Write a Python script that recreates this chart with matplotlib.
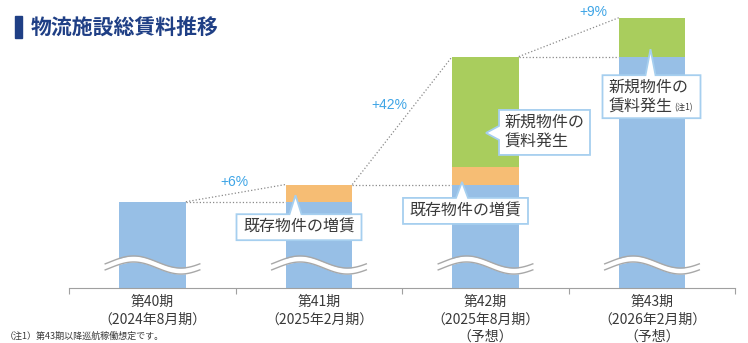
import matplotlib
matplotlib.use("Agg")
import matplotlib.pyplot as plt
import numpy as np
from matplotlib.patches import Polygon, Rectangle

plt.rcParams["font.family"] = ["Noto Sans CJK JP", "DejaVu Sans"]

# Rent index per fiscal period (第40期 = 100)
periods = ["第40期\n（2024年8月期）", "第41期\n（2025年2月期）",
           "第42期\n（2025年8月期）\n（予想）", "第43期\n（2026年2月期）\n（予想）"]
base_rent = [100, 100, 106, 150.5]      # carried over from the previous period
existing_up = [0, 6, 6, 0]              # 既存物件の増賃
new_rent = [0, 0, 38.5, 13.5]           # 新規物件の賃料発生

BLUE, ORANGE, GREEN = "#97bfe6", "#f6bd74", "#a9cd5d"
EDGE = "#a6cfef"
TXT = "#3a3a3a"
W = 0.40

base = np.array(base_rent, float)
up = np.array(existing_up, float)
new = np.array(new_rent, float)
total = base + up + new
x = np.arange(len(periods))

fig = plt.figure(figsize=(7.48, 3.43), dpi=100)
ax = fig.add_axes([69.25 / 748, 55 / 343, 666 / 748, 278 / 343])
ax.set_xlim(-0.5, 3.5)
ax.set_ylim(70, 70 + 278 / 2.875)

ax.bar(x, base, W, color=BLUE, zorder=2)
ax.bar(x, up, W, bottom=base, color=ORANGE, zorder=2)
ax.bar(x, new, W, bottom=base + up, color=GREEN, zorder=2)

for s in ["top", "right", "left"]:
    ax.spines[s].set_visible(False)
ax.spines["bottom"].set_color("#a0a0a0")
ax.set_yticks([])
ax.set_xticks(np.arange(-0.5, 4, 1), [""] * 5)
ax.tick_params(axis="x", which="major", length=4, color="#a0a0a0")
ax.set_xticks(x, periods, minor=True)
ax.tick_params(axis="x", which="minor", length=0, pad=5, labelsize=10,
               labelcolor=TXT)
for lab in ax.get_xticklabels(minor=True):
    lab.set_linespacing(1.3)

# pixel helpers (image coords: y grows downward)
to_disp = ax.transData.transform
to_data = ax.transData.inverted().transform

# axis break waves
for xi in x:
    t = np.linspace(0, 1, 80)
    xs = np.linspace(xi - W / 2 - 14 / 166.5, xi + W / 2 + 14 / 166.5, 80)
    yc = 78 + 2.1 * np.sin(2 * np.pi * (t - 0.05))
    ax.fill_between(xs, yc - 1.05, yc + 1.05, color="white", zorder=3, lw=0)
    ax.plot(xs, yc + 1.05, color="#a8a8a8", lw=1, zorder=4)
    ax.plot(xs, yc - 1.05, color="#a8a8a8", lw=1, zorder=4)

# growth connectors
growth_offsets = [(-1.5, -11), (-12.5, -15.5), (25, -25.5)]
for i in range(len(x) - 1):
    x0, x1 = x[i] + W / 2, x[i + 1] - W / 2
    ax.plot([x0, x1], [total[i], total[i + 1]], ls=":", color="#8a8a8a", lw=0.9, zorder=1)
    ax.plot([x0, x1], [total[i], total[i]], ls=":", color="#8a8a8a", lw=0.9, zorder=1)
    pct = round((total[i + 1] / total[i] - 1) * 100)
    dx, dy = growth_offsets[i]
    ax.annotate(f"+{pct}%", ((x0 + x1) / 2, (total[i] + total[i + 1]) / 2),
                xytext=(dx, -dy), textcoords="offset pixels", ha="center",
                va="center", color="#3fa5e6", fontsize=10,
                family=["Liberation Sans", "DejaVu Sans"])


def callout(tip, box_dx, box_dy, w, h, side, half=6):
    """Box with a pointer; offsets in pixels from the tip, image-style y."""
    TX, TY = to_disp(tip)
    L, T = TX + box_dx, TY - box_dy
    R, B = L + w, T - h
    if side == "top":
        pts = [(L, T), (TX - half, T), (TX, TY), (TX + half, T), (R, T), (R, B), (L, B)]
    else:
        pts = [(L, T), (R, T), (R, B), (L, B), (L, TY - half), (TX, TY), (L, TY + half)]
    poly = Polygon(to_data(np.array(pts)), closed=True, facecolor="white",
                   edgecolor=EDGE, lw=1.3, zorder=5, joinstyle="miter")
    ax.add_patch(poly)
    return L, T


def seg_point(i, lo, seg, frac, dx_px):
    X, _ = to_disp((x[i], 0))
    xd = to_data((X + dx_px, 0))[0]
    return (xd, lo[i] + seg[i] * frac)


# 既存物件の増賃 (第41期, 第42期)
for i, dxp, frac, bdy in [(1, -23.5, 0.38, 19), (2, -23.5, 0.15, 16)]:
    tip = seg_point(i, base, up, frac, dxp)
    L, T = callout(tip, -59, bdy, 125, 26, "top")
    ax.text(*to_data((L + 62.5, T - 13)), "既存物件の増賃", ha="center", va="center",
            fontsize=11.5, color=TXT, zorder=6)

# 新規物件の賃料発生 (第42期)
tip = seg_point(2, base + up, new, 0.31, 0.5)
L, T = callout(tip, 13, -23, 91, 45, "left", half=7)
ax.text(*to_data((L + 6, T - 22.5)), "新規物件の\n賃料発生", ha="left", va="center",
        fontsize=11.5, color=TXT, zorder=6, linespacing=1.25)

# 新規物件の賃料発生 (第43期), with the footnote mark after the second line
tip = seg_point(3, base + up, new, 0.19, -1.5)
L, T = callout(tip, -48, 26, 98, 43, "top", half=5)
ax.text(*to_data((L + 6, T - 12)), "新規物件の", ha="left", va="center",
        fontsize=11.5, color=TXT, zorder=6)
ax.text(*to_data((L + 6, T - 31.5)), "賃料発生", ha="left", va="center",
        fontsize=11.5, color=TXT, zorder=6)
ax.text(*to_data((L + 72, T - 32)), "(注1)", ha="left", va="center",
        fontsize=6, color=TXT, zorder=6)

# title
fig.patches.append(Rectangle((15 / 748, (343 - 38) / 343), 7 / 748, 22 / 343,
                             transform=fig.transFigure, color="#1f3f85"))
fig.text(31 / 748, (343 - 27) / 343, "物流施設総賃料推移", fontsize=15,
         fontweight="bold", color="#1f3f85", va="center", ha="left")

fig.text(5 / 748, (343 - 336) / 343, "（注1）第43期以降巡航稼働想定です。",
         fontsize=6.5, color=TXT, va="center", ha="left")

fig.savefig("out.png", dpi=100)
